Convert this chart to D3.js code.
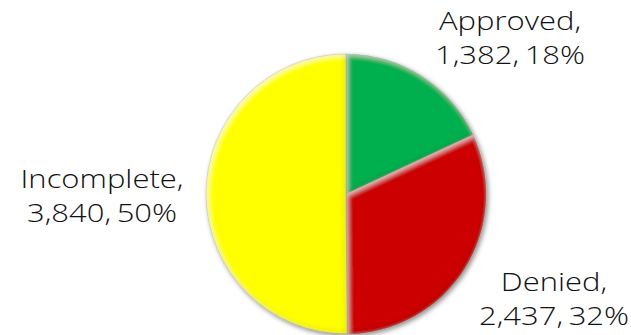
<!DOCTYPE html>
<html>
<head>
<meta charset="utf-8">
<script src="https://cdn.jsdelivr.net/npm/d3@7"></script>
<style>
  html, body { margin: 0; padding: 0; background: #fff; }
  svg { display: block; }
  .lbl { font-family: "Open Sans", sans-serif; font-weight: 300; font-size: 25px; fill: #111; word-spacing: -2px; }
</style>
</head>
<body>
<svg id="chart" width="631" height="335"></svg>
<script>
// Application outcomes
const categories = ["Approved", "Denied", "Incomplete"];
const counts = [1382, 2437, 3840];
const percents = [18, 32, 50];
const colors = ["#00b050", "#cc0000", "#ffff00"];

const W = 631, H = 335;
const cx = 346, cy = 194, R = 140;

const svg = d3.select("#chart");
const defs = svg.append("defs");

// soft drop shadow under the whole pie
const shadow = defs.append("filter").attr("id", "shadow")
  .attr("x", "-10%").attr("y", "-10%").attr("width", "120%").attr("height", "120%");
shadow.append("feGaussianBlur").attr("in", "SourceAlpha").attr("stdDeviation", 2.5).attr("result", "b");
shadow.append("feOffset").attr("in", "b").attr("dx", 1.5).attr("dy", 1.5).attr("result", "o");
shadow.append("feComponentTransfer").attr("in", "o").attr("result", "s")
  .append("feFuncA").attr("type", "linear").attr("slope", 0.45);
const sm = shadow.append("feMerge");
sm.append("feMergeNode").attr("in", "s");
sm.append("feMergeNode").attr("in", "SourceGraphic");

// bevel: darkened inner rim plus a light highlight along the upper-left edges
const bevel = defs.append("filter").attr("id", "bevel")
  .attr("x", "-5%").attr("y", "-5%").attr("width", "110%").attr("height", "110%");
bevel.append("feFlood").attr("flood-color", "#000").attr("result", "black");
bevel.append("feComposite").attr("in", "black").attr("in2", "SourceAlpha").attr("operator", "out").attr("result", "outside");
bevel.append("feGaussianBlur").attr("in", "outside").attr("stdDeviation", 3).attr("result", "ob");
bevel.append("feOffset").attr("in", "ob").attr("dx", -1).attr("dy", -1).attr("result", "obo");
bevel.append("feComposite").attr("in", "obo").attr("in2", "SourceAlpha").attr("operator", "in").attr("result", "innerDark");
bevel.append("feComponentTransfer").attr("in", "innerDark").attr("result", "innerDarkA")
  .append("feFuncA").attr("type", "linear").attr("slope", 0.35);
bevel.append("feFlood").attr("flood-color", "#fff").attr("result", "white");
bevel.append("feComposite").attr("in", "white").attr("in2", "SourceAlpha").attr("operator", "out").attr("result", "outsideW");
bevel.append("feGaussianBlur").attr("in", "outsideW").attr("stdDeviation", 2).attr("result", "wb");
bevel.append("feOffset").attr("in", "wb").attr("dx", 2).attr("dy", 2).attr("result", "wbo");
bevel.append("feComposite").attr("in", "wbo").attr("in2", "SourceAlpha").attr("operator", "in").attr("result", "innerLight");
bevel.append("feComponentTransfer").attr("in", "innerLight").attr("result", "innerLightA")
  .append("feFuncA").attr("type", "linear").attr("slope", 0.5);
const bm = bevel.append("feMerge");
bm.append("feMergeNode").attr("in", "SourceGraphic");
bm.append("feMergeNode").attr("in", "innerDarkA");
bm.append("feMergeNode").attr("in", "innerLightA");

const pie = d3.pie().sort(null).value(d => d)(counts);
const arc = d3.arc().innerRadius(0).outerRadius(R);

const g = svg.append("g").attr("transform", `translate(${cx},${cy})`).attr("filter", "url(#shadow)");
g.selectAll("path.slice")
  .data(pie)
  .join("path")
  .attr("class", "slice")
  .attr("d", arc)
  .attr("fill", (d, i) => colors[i])
  .attr("stroke", "#6b6b00")
  .attr("stroke-opacity", 0.35)
  .attr("stroke-width", 0.8)
  .attr("filter", "url(#bevel)");

// labels: name on the first line, count and share on the second
const fmt = d3.format(",");
const labelPos = [
  { x: 510, y: 30 },
  { x: 554, y: 291 },
  { x: 102, y: 188 }
];
const lineGap = 34;
const stretch = 1.24; // wide geometric lettering
categories.forEach((c, i) => {
  const t = svg.append("text").attr("class", "lbl")
    .attr("text-anchor", "middle")
    .attr("transform", `translate(${labelPos[i].x},${labelPos[i].y}) scale(${stretch},1)`);
  t.append("tspan").attr("x", 0).text(c + ",");
  t.append("tspan").attr("x", 0).attr("dy", lineGap)
    .text(`${fmt(counts[i])}, ${percents[i]}%`);
});
</script>
</body>
</html>
